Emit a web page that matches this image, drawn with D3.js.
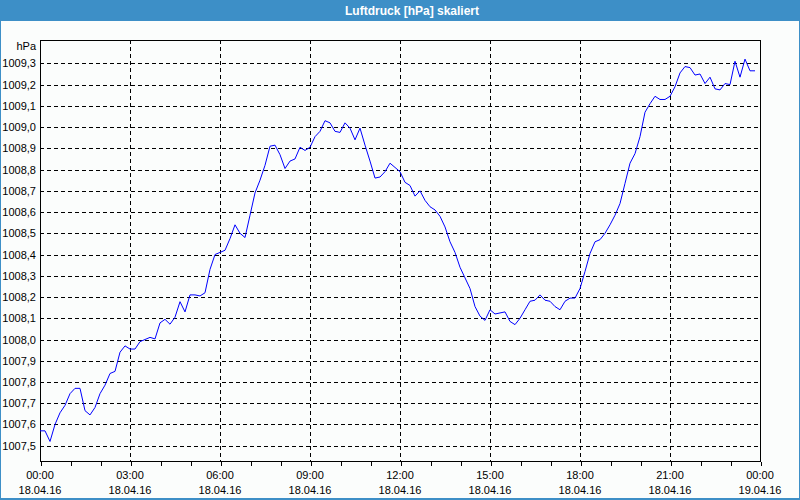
<!DOCTYPE html>
<html><head><meta charset="utf-8">
<script src="https://cdn.jsdelivr.net/npm/d3@7"></script>
<style>
html,body{margin:0;padding:0;background:#fff;}
svg{display:block;}
text{font-family:"Liberation Sans",Arial,sans-serif;}
</style></head>
<body>
<script>
// ---- data ----
const title = "Luftdruck [hPa] skaliert";
const unit = "hPa";
const startTime = "2016-04-18T00:00:00";
const endTime = "2016-04-19T00:00:00";
const stepMinutes = 10;
// pressure values every 10 minutes from 00:00 to 23:50
const pressure = [
1007.57,1007.57,1007.52,1007.60,1007.655,1007.69,1007.745,1007.77,1007.77,1007.665,
1007.645,1007.68,1007.745,1007.785,1007.84,1007.85,1007.94,1007.97,1007.955,1007.955,
1007.99,1008.00,1008.01,1008.003,1008.078,1008.095,1008.072,1008.105,1008.178,1008.13,
1008.21,1008.21,1008.205,1008.22,1008.33,1008.40,1008.41,1008.42,1008.475,1008.54,
1008.50,1008.48,1008.585,1008.69,1008.75,1008.82,1008.91,1008.915,1008.87,1008.805,
1008.84,1008.85,1008.905,1008.89,1008.905,1008.955,1008.98,1009.03,1009.02,1008.98,
1008.975,1009.02,1008.995,1008.94,1008.995,1008.915,1008.84,1008.76,1008.765,1008.79,
1008.83,1008.81,1008.79,1008.74,1008.725,1008.675,1008.70,1008.655,1008.625,1008.61,
1008.58,1008.53,1008.46,1008.41,1008.34,1008.29,1008.24,1008.155,1008.11,1008.09,
1008.14,1008.12,1008.125,1008.13,1008.085,1008.07,1008.10,1008.14,1008.18,1008.185,
1008.21,1008.185,1008.18,1008.155,1008.14,1008.18,1008.195,1008.195,1008.24,1008.32,
1008.405,1008.46,1008.47,1008.50,1008.54,1008.585,1008.64,1008.735,1008.83,1008.875,
1008.955,1009.07,1009.11,1009.145,1009.13,1009.13,1009.145,1009.19,1009.255,1009.285,
1009.28,1009.245,1009.25,1009.205,1009.235,1009.18,1009.175,1009.205,1009.20,1009.31,
1009.235,1009.32,1009.265,1009.265
];
const yDomain = [1007.428, 1009.41];
const yTicks = [1007.5,1007.6,1007.7,1007.8,1007.9,1008.0,1008.1,1008.2,1008.3,1008.4,
  1008.5,1008.6,1008.7,1008.8,1008.9,1009.0,1009.1,1009.2,1009.3];

// ---- layout ----
const W = 800, H = 500;
const m = {left:40, right:760, top:40, bottom:461};

const parse = d3.isoParse;
const t0 = parse(startTime), t1 = parse(endTime);
const data = pressure.map((v,i)=>({t:d3.timeMinute.offset(t0, i*stepMinutes), v}));

const x = d3.scaleTime().domain([t0,t1]).range([m.left, m.right]);
const y = d3.scaleLinear().domain(yDomain).range([m.bottom, m.top]);

const svg = d3.select("body").append("svg").attr("width",W).attr("height",H);

// background + border
svg.append("rect").attr("x",0).attr("y",0).attr("width",W).attr("height",H).attr("fill","#3d8fc7");
svg.append("rect").attr("x",1).attr("y",21).attr("width",W-2).attr("height",H-23).attr("fill","#fbfdfc");

// title
svg.append("text").attr("x",412).attr("y",11).attr("dy","0.35em")
  .attr("text-anchor","middle").attr("fill","#fff").attr("font-weight","bold")
  .attr("font-size","12px").text(title);

// grid
const g = svg.append("g").attr("shape-rendering","crispEdges");
g.selectAll("line.h").data(yTicks).join("line").attr("class","h")
  .attr("x1",m.left).attr("x2",m.right)
  .attr("y1",d=>Math.round(y(d))+0.5).attr("y2",d=>Math.round(y(d))+0.5)
  .attr("stroke","#000").attr("stroke-dasharray","4,3");
const majorTimes = d3.timeHour.every(3).range(t0, d3.timeMinute.offset(t1,1));
g.selectAll("line.v").data(majorTimes.slice(1,-1)).join("line").attr("class","v")
  .attr("y1",m.top).attr("y2",m.bottom)
  .attr("x1",d=>Math.round(x(d))+0.5).attr("x2",d=>Math.round(x(d))+0.5)
  .attr("stroke","#000").attr("stroke-dasharray","4,3");

// x axis
const fmtT = d3.timeFormat("%H:%M"), fmtD = d3.timeFormat("%d.%m.%y");
const xAxis = d3.axisBottom(x).ticks(d3.timeHour.every(1)).tickSize(4).tickFormat("");
const xa = svg.append("g").attr("transform",`translate(0.5,${m.bottom+0.5})`).call(xAxis);
xa.select(".domain").remove();
xa.selectAll("line").attr("stroke","#000").attr("shape-rendering","crispEdges");
const lab = svg.append("g");
majorTimes.forEach(d=>{
  lab.append("text").attr("x",x(d)).attr("y",475).attr("dy","0.35em")
    .attr("text-anchor","middle").attr("font-size","11px").attr("fill","#000").text(fmtT(d));
  lab.append("text").attr("x",x(d)).attr("y",490).attr("dy","0.35em")
    .attr("text-anchor","middle").attr("font-size","11px").attr("fill","#000").text(fmtD(d));
});

// y axis labels
const fmtY = v => d3.format(".1f")(v).replace(".",",");
const ya = svg.append("g").attr("transform",`translate(${m.left},0)`)
  .call(d3.axisLeft(y).tickValues(yTicks).tickSize(0).tickPadding(4).tickFormat(fmtY));
ya.select(".domain").remove();
ya.selectAll("text").attr("font-size","11px").attr("fill","#000")
  .attr("font-family","Liberation Sans, Arial, sans-serif");
svg.append("text").attr("x",m.left-4).attr("y",46).attr("dy","0.35em")
  .attr("text-anchor","end").attr("font-size","11px").text(unit);

// frame
svg.append("rect").attr("x",m.left+0.5).attr("y",m.top+0.5)
  .attr("width",m.right-m.left).attr("height",m.bottom-m.top)
  .attr("fill","none").attr("stroke","#000").attr("shape-rendering","crispEdges");

// line
const line = d3.line().x(d=>x(d.t)).y(d=>y(d.v));
svg.append("path").datum(data).attr("d",line).attr("fill","none")
  .attr("stroke","#0000ff").attr("stroke-width",1);
</script>
</body></html>
